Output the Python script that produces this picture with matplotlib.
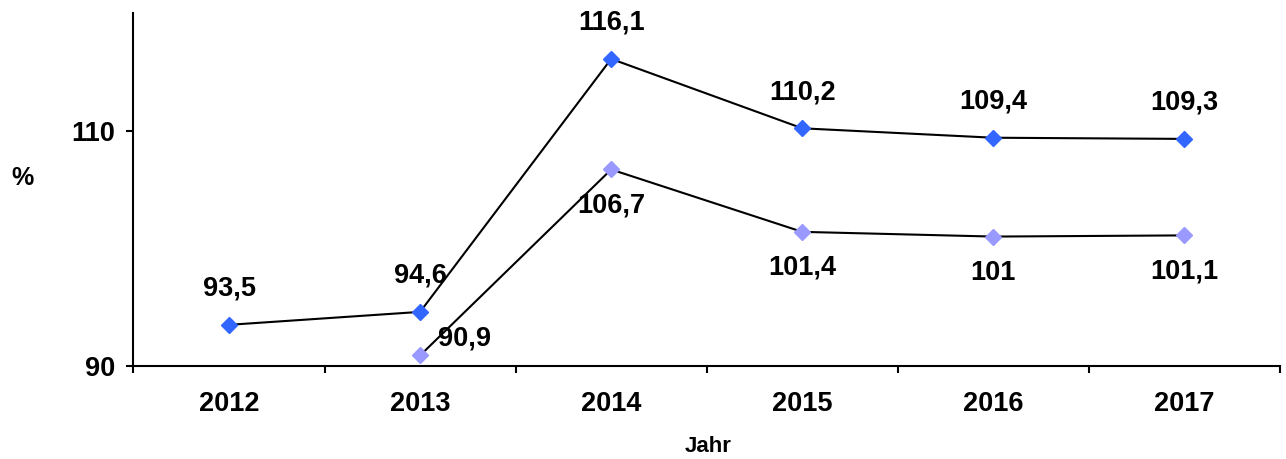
import matplotlib.pyplot as plt
import numpy as np

# -------------------------- Data -------------------------- #
years = ["2012", "2013", "2014", "2015", "2016", "2017"]
series_a = [93.5, 94.6, 116.1, 110.2, 109.4, 109.3]
series_b = [np.nan, 90.9, 106.7, 101.4, 101.0, 101.1]
labels_a = ["93,5", "94,6", "116,1", "110,2", "109,4", "109,3"]
labels_b = ["", "90,9", "106,7", "101,4", "101", "101,1"]

plt.rcParams['font.family'] = ['Liberation Sans', 'DejaVu Sans']
plt.rcParams['font.weight'] = 'bold'

fig = plt.figure(figsize=(12.86, 4.59), dpi=100)
ax = fig.add_axes([0.1038, 0.2026, 0.8915, 0.7691])

x = np.arange(len(years))
ax.plot(x, series_a, color='black', lw=1.5, marker='D', ms=8,
        markerfacecolor='#3366FF', markeredgecolor='#3366FF', zorder=3)
ax.plot(x, series_b, color='black', lw=1.5, marker='D', ms=8,
        markerfacecolor='#9999FF', markeredgecolor='#9999FF', zorder=3)

FS = 19.5

for xi, v, t in zip(x, series_a, labels_a):
    ax.annotate(t, (xi, v), xytext=(0, 26), textcoords='offset points',
                ha='center', va='center', fontsize=FS, fontweight='bold')

for xi, v, t in zip(x, series_b, labels_b):
    if not t:
        continue
    if xi == 1:
        off = (32, 12)
    else:
        off = (0, -26)
    ax.annotate(t, (xi, v), xytext=off, textcoords='offset points',
                ha='center', va='center', fontsize=FS, fontweight='bold')

ax.set_xlim(-0.5, len(years) - 0.5)
ax.set_ylim(90, 120)
ax.set_yticks([90, 110])
ax.set_yticklabels(["90", "110"], fontsize=FS, fontweight='bold')
ax.set_xticks(x)
ax.set_xticklabels(years, fontsize=FS, fontweight='bold')
ax.tick_params(axis='x', which='major', length=0, pad=18)
ax.set_xticks(np.arange(-0.5, len(years)), minor=True)
ax.tick_params(axis='x', which='minor', length=5, width=1.5, direction='out')
ax.tick_params(axis='y', length=5, width=1.5, direction='out', pad=8)

for s in ['top', 'right']:
    ax.spines[s].set_visible(False)
for s in ['left', 'bottom']:
    ax.spines[s].set_linewidth(1.5)

fig.text(22 / 1286, 1 - 178 / 459, "%", ha='center', va='center',
         fontsize=18, fontweight='bold')
fig.text(708 / 1286, 1 - 447 / 459, "Jahr", ha='center', va='center',
         fontsize=16, fontweight='bold')

fig.savefig("out.png", dpi=100)
